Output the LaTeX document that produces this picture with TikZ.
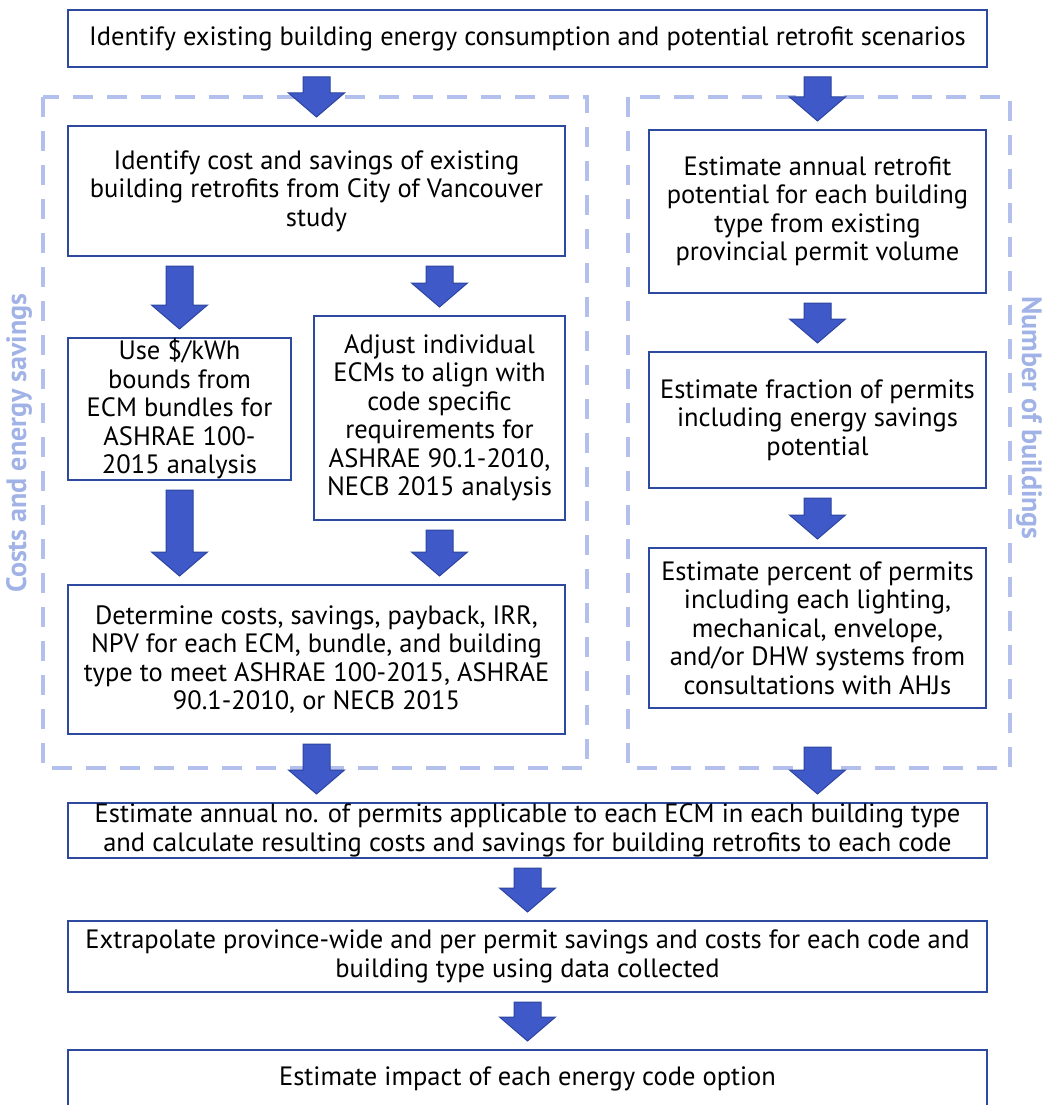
\documentclass[tikz,border=0pt]{standalone}
\usepackage{fontspec}
\setmainfont{PT Sans}
\usetikzlibrary{calc}

\definecolor{boxline}{RGB}{46,74,159}
\definecolor{arrowfill}{RGB}{63,90,200}
\definecolor{arrowline}{RGB}{44,68,160}
\definecolor{regionline}{RGB}{179,191,236}
\definecolor{regiontext}{RGB}{160,178,230}

\tikzset{
  box/.style={draw=boxline, line width=2pt, align=center, inner sep=0pt,
    font=\fontsize{26.5}{28.5}\selectfont},
  region/.style={regionline, line width=4.5pt, dash pattern=on 20pt off 14pt},
  sidelabel/.style={regiontext, font=\fontsize{28}{30}\selectfont\bfseries},
  fatarrow/.style={draw=arrowline, fill=arrowfill, line width=1pt,
    to path={let \p1=(\tikztostart), \p2=(\tikztotarget) in
      (\x1-13.5,\y1-9) -- (\x1-13.5,\y2+32) -- (\x1-28,\y2+32) -- (\x1,\y2+8)
      -- (\x1+28,\y2+32) -- (\x1+13.5,\y2+32) -- (\x1+13.5,\y1-9) -- cycle}}
}

\begin{document}
\begin{tikzpicture}[x=1pt,y=1pt]
  \useasboundingbox (0,0) rectangle (1041,-1105);

  % Dashed regions
  \draw[region] (43,-97) rectangle (587,-768);
  \draw[region] (628,-97) rectangle (1010,-768);
  \draw (19,-443) node[sidelabel, rotate=90] (costlabel) {Costs and energy savings};
  \draw (1029,-418) node[sidelabel, rotate=-90] (numlabel) {Number of buildings};

  % Top
  \node[box, minimum width=919, minimum height=57] (top) at (527.5,-38.5)
    {Identify existing building energy consumption and potential retrofit scenarios};

  % Costs and energy savings
  \node[box, minimum width=497, minimum height=130] (idcost) at (316.5,-191)
    {Identify cost and savings of existing\\building retrofits from City of Vancouver\\study};
  \node[box, minimum width=223, minimum height=142] (use) at (179.5,-409)
    {Use \$/kWh\\bounds from\\ECM bundles for\\ASHRAE 100-\\2015 analysis};
  \node[box, minimum width=251, minimum height=204] (adjust) at (439.5,-418)
    {Adjust individual\\ECMs to align with\\code specific\\requirements for\\ASHRAE 90.1-2010,\\NECB 2015 analysis};
  \node[box, minimum width=497, minimum height=149] (determine) at (316.5,-659.5)
    {Determine costs, savings, payback, IRR,\\NPV for each ECM, bundle, and building\\type to meet ASHRAE 100-2015, ASHRAE\\90.1-2010, or NECB 2015};

  % Number of buildings
  \node[box, minimum width=337, minimum height=163] (annual) at (817.5,-211.5)
    {Estimate annual retrofit\\potential for each building\\type from existing\\provincial permit volume};
  \node[box, minimum width=337, minimum height=136] (fraction) at (817.5,-420)
    {Estimate fraction of permits\\including energy savings\\potential};
  \node[box, minimum width=337, minimum height=160] (percent) at (817.5,-628)
    {Estimate percent of permits\\including each lighting,\\mechanical, envelope,\\and/or DHW systems from\\consultations with AHJs};
  \coordinate (percentout) at ([yshift=-29pt]percent.south);

  % Bottom
  \node[box, minimum width=919, minimum height=55] (annualno) at (527.5,-830.5)
    {Estimate annual no. of permits applicable to each ECM in each building type\\and calculate resulting costs and savings for building retrofits to each code};
  \node[box, minimum width=919, minimum height=71] (extrap) at (527.5,-956.5)
    {Extrapolate province-wide and per permit savings and costs for each code and\\building type using data collected};
  \node[box, minimum width=919, minimum height=58] (impact) at (527.5,-1079)
    {Estimate impact of each energy code option};

  % Arrows
  \draw[fatarrow] (top.south -| idcost.north) to (idcost.north);
  \draw[fatarrow] (top.south -| annual.north) to (annual.north);
  \draw[fatarrow] (idcost.south -| use.north) to (use.north);
  \draw[fatarrow] (idcost.south -| adjust.north) to (adjust.north);
  \draw[fatarrow] (use.south) to (determine.north -| use.south);
  \draw[fatarrow] (adjust.south) to (determine.north -| adjust.south);
  \draw[fatarrow] (annual.south) to (fraction.north);
  \draw[fatarrow] (fraction.south) to (percent.north);
  \draw[fatarrow] (determine.south) to (annualno.north -| determine.south);
  \draw[fatarrow] (percentout) to (annualno.north -| percentout);
  \draw[fatarrow] (annualno.south) to (extrap.north);
  \draw[fatarrow] (extrap.south) to (impact.north);

\end{tikzpicture}
\end{document}
